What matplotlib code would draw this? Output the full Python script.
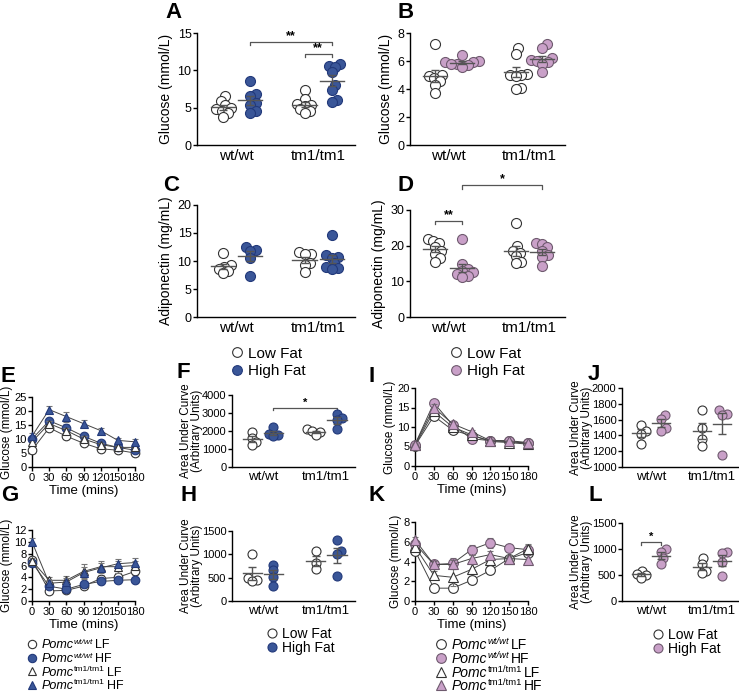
import numpy as np
import matplotlib
matplotlib.use('Agg')
import matplotlib.pyplot as plt
from matplotlib.lines import Line2D

plt.rcParams['font.family'] = ['Liberation Sans', 'DejaVu Sans']

# ---------------- data ----------------
groups = ['wt/wt', 'tm1/tm1']
times = [0, 30, 60, 90, 120, 150, 180]

# A  glucose (mmol/L), blue HF
A_wt_lf = [6.5, 5.9, 5.3, 5.0, 4.8, 4.6, 4.3, 3.8]
A_wt_hf = [8.6, 6.8, 6.6, 5.6, 5.4, 4.5, 4.3]
A_tm_lf = [7.3, 6.2, 5.5, 5.3, 5.2, 4.8, 4.5, 4.3]
A_tm_hf = [10.8, 10.6, 10.5, 9.8, 8.0, 7.3, 6.0, 5.7]
# B  glucose (mmol/L), pink HF
B_wt_lf = [7.2, 5.0, 4.9, 4.8, 4.6, 4.3, 3.7]
B_wt_hf = [6.4, 6.0, 5.9, 5.9, 5.8, 5.8, 5.7, 5.6]
B_tm_lf = [6.9, 6.5, 5.1, 5.0, 5.0, 4.9, 4.1, 4.0]
B_tm_hf = [7.2, 6.9, 6.2, 6.1, 6.0, 5.9, 5.8, 5.2]
# C  adiponectin (mg/mL), blue HF
C_wt_lf = [11.4, 9.2, 9.0, 8.6, 8.2, 7.8]
C_wt_hf = [12.5, 12.0, 11.8, 10.5, 7.4]
C_tm_lf = [11.6, 11.3, 11.2, 9.7, 9.3, 8.1]
C_tm_hf = [14.7, 11.0, 10.8, 10.6, 9.6, 9.0, 8.7, 8.6]
# D  adiponectin (mg/mL), pink HF
D_wt_lf = [22.0, 21.2, 20.8, 19.5, 18.5, 17.8, 16.5, 15.5]
D_wt_hf = [21.8, 14.8, 13.5, 13.0, 12.5, 12.0, 11.5, 11.1]
D_tm_lf = [26.3, 19.8, 18.5, 18.0, 17.0, 15.5, 15.2]
D_tm_hf = [20.8, 20.6, 19.5, 18.5, 17.5, 16.8, 14.2]

# E  GTT, blue
E_wt_lf = [6.0, 14.0, 11.0, 8.5, 6.5, 6.0, 5.0]
E_wt_lf_err = [0.6, 1.0, 1.0, 0.8, 0.6, 0.5, 0.5]
E_wt_hf = [10.0, 16.5, 14.0, 11.0, 8.5, 7.0, 6.0]
E_wt_hf_err = [0.8, 1.0, 1.2, 0.9, 0.7, 0.6, 0.5]
E_tm_lf = [9.0, 15.5, 13.0, 10.0, 8.0, 7.0, 7.0]
E_tm_lf_err = [0.8, 1.0, 1.0, 0.9, 0.7, 0.6, 0.6]
E_tm_hf = [11.0, 20.5, 18.0, 15.5, 13.0, 9.5, 9.0]
E_tm_hf_err = [1.0, 1.3, 1.8, 1.2, 0.8, 0.8, 1.0]
# F  AUC GTT, blue
F_wt_lf = [1950, 1600, 1400, 1200]
F_wt_hf = [2250, 1850, 1800, 1700]
F_tm_lf = [2100, 2000, 1950, 1800]
F_tm_hf = [2950, 2700, 2600, 2100]
# G  ITT, blue
G_wt_lf = [7.0, 1.7, 1.8, 2.5, 3.8, 4.0, 5.0]
G_wt_lf_err = [0.5, 0.3, 0.3, 0.5, 0.6, 0.7, 0.6]
G_wt_hf = [6.5, 2.5, 2.0, 2.8, 3.3, 3.5, 3.6]
G_wt_hf_err = [0.5, 0.4, 0.3, 0.5, 0.4, 0.5, 0.4]
G_tm_lf = [6.8, 3.5, 3.5, 5.0, 5.8, 5.8, 6.0]
G_tm_lf_err = [0.5, 0.6, 0.8, 1.2, 0.9, 1.0, 0.8]
G_tm_hf = [10.0, 3.0, 3.2, 4.8, 5.6, 6.3, 6.5]
G_tm_hf_err = [0.6, 0.6, 0.7, 0.9, 0.9, 0.8, 0.7]
# H  AUC ITT, blue
H_wt_lf = [1000, 500, 450, 430]
H_wt_hf = [780, 660, 510, 330]
H_tm_lf = [1070, 820, 680]
H_tm_hf = [1300, 1080, 1000, 530]
# I  GTT, pink
I_wt_lf = [5.2, 12.8, 9.2, 7.8, 6.5, 6.3, 5.8]
I_wt_lf_err = [0.3, 0.8, 0.6, 0.5, 0.3, 0.3, 0.3]
I_wt_hf = [5.5, 16.2, 10.5, 7.0, 6.5, 6.5, 6.0]
I_wt_hf_err = [0.3, 0.8, 0.6, 0.5, 0.3, 0.3, 0.3]
I_tm_lf = [5.3, 14.0, 10.0, 8.0, 6.3, 6.0, 5.6]
I_tm_lf_err = [0.3, 0.9, 0.6, 0.5, 0.3, 0.3, 0.3]
I_tm_hf = [5.5, 15.0, 10.8, 8.8, 6.5, 6.3, 5.8]
I_tm_hf_err = [0.3, 0.9, 0.6, 0.5, 0.3, 0.3, 0.3]
# J  AUC GTT, pink
J_wt_lf = [1530, 1460, 1420, 1290]
J_wt_hf = [1660, 1610, 1490, 1450]
J_tm_lf = [1720, 1500, 1360, 1260]
J_tm_hf = [1720, 1670, 1660, 1150]
# K  ITT, pink
K_wt_lf = [5.1, 1.3, 1.3, 2.1, 3.1, 4.3, 4.9]
K_wt_lf_err = [0.3, 0.2, 0.2, 0.3, 0.3, 0.4, 0.4]
K_wt_hf = [5.8, 3.7, 3.8, 5.2, 5.9, 5.4, 5.2]
K_wt_hf_err = [0.3, 0.5, 0.6, 0.5, 0.5, 0.3, 0.5]
K_tm_lf = [5.5, 2.6, 2.4, 3.2, 4.2, 4.3, 5.3]
K_tm_lf_err = [0.3, 0.4, 0.9, 0.5, 0.4, 0.4, 0.5]
K_tm_hf = [6.2, 3.7, 3.7, 4.3, 4.7, 4.3, 4.2]
K_tm_hf_err = [0.3, 0.4, 0.5, 0.4, 0.4, 0.3, 0.3]
# L  AUC ITT, pink
L_wt_lf = [580, 520, 500, 450]
L_wt_hf = [1000, 950, 820, 720]
L_tm_lf = [820, 720, 580, 530]
L_tm_hf = [950, 930, 750, 480]

# legend texts: gene name, superscript genotype, diet
geno_gene = 'Pomc'
geno_sup = ['wt/wt', 'wt/wt', 'tm1/tm1', 'tm1/tm1']
geno_diet = ['LF', 'HF', 'LF', 'HF']
diet_labels = ['Low Fat', 'High Fat']

blue, blue_edge = '#3a5698', '#22397a'
pink, pink_edge = '#c9a0c8', '#6e5a6e'
open_edge = '#333333'
gray = '#555555'

W, H = 739, 693
fig = plt.figure(figsize=(W / 100, H / 100), dpi=100)
renderer = fig.canvas.get_renderer()


def px_axes(l, t, r, b):
    return fig.add_axes([l / W, 1 - b / H, (r - l) / W, (b - t) / H])


def style(ax, tick_fs):
    for s in ['top', 'right']:
        ax.spines[s].set_visible(False)
    for s in ['left', 'bottom']:
        ax.spines[s].set_linewidth(1.0)
    ax.tick_params(labelsize=tick_fs, width=1, length=3, pad=1)


def swarm(ypx, d):
    # simple beeswarm, offsets in pixels
    placed = []
    offs = np.zeros(len(ypx))
    for i in np.argsort(ypx):
        y = ypx[i]
        cands = [0.0]
        for px_, py_ in placed:
            dy = y - py_
            if abs(dy) < d:
                dx = np.sqrt(d * d - dy * dy)
                cands += [px_ + dx, px_ - dx]
        cands.sort(key=abs)
        for c in cands:
            if all((c - px_) ** 2 + (y - py_) ** 2 >= d * d - 1e-6 for px_, py_ in placed):
                break
        placed.append((c, y))
        offs[i] = c
    return offs


def dot_panel(rect, vals4, ylim, yticks, face, edge, ylabel, ms_px,
              tick_fs, cat_fs, ylab_fs, labelpad=3):
    ax = px_axes(*rect)
    l, t, r, b = rect
    xlim = (-0.95, 4.85)
    ax.set_xlim(*xlim)
    ax.set_ylim(*ylim)
    sx = (r - l) / (xlim[1] - xlim[0])
    sy = (b - t) / (ylim[1] - ylim[0])
    xpos = [0, 1, 3, 4]
    for k, v in enumerate(vals4):
        v = np.asarray(v, float)
        offs = swarm(v * sy, ms_px * 0.6) / sx
        fc = 'white' if k % 2 == 0 else face
        ec = open_edge if k % 2 == 0 else edge
        ax.scatter(xpos[k] + offs, v, s=(ms_px * 0.72) ** 2, facecolor=fc,
                   edgecolor=ec, linewidth=0.8, zorder=3, clip_on=False)
        m = v.mean()
        se = v.std(ddof=1) / np.sqrt(len(v))
        ax.plot([xpos[k] - 0.45, xpos[k] + 0.45], [m, m], color=gray, lw=1, zorder=4)
        ax.errorbar(xpos[k], m, yerr=se, fmt='none', ecolor=gray, elinewidth=1,
                    capsize=3, capthick=1, zorder=4)
    style(ax, tick_fs)
    ax.set_yticks(yticks)
    ax.set_xticks([0.5, 3.5])
    ax.set_xticklabels(groups, fontsize=cat_fs)
    ax.tick_params(axis='x', length=0, pad=3)
    ax.set_ylabel(ylabel, fontsize=ylab_fs, labelpad=labelpad, linespacing=0.88)
    return ax


def sig(ax, x1, x2, y, text, tick, fs=9):
    ax.plot([x1, x1, x2, x2], [y - tick, y, y, y - tick], color=gray, lw=0.9,
            clip_on=False)
    ax.text((x1 + x2) / 2, y, text, ha='center', va='bottom', fontsize=fs,
            fontweight='bold')


def time_panel(rect, series, ylim, yticks, face, edge, ms=6.2):
    ax = px_axes(*rect)
    ax.set_xlim(0, 180)
    ax.set_ylim(*ylim)
    styles = [('o', 'white', open_edge), ('o', face, edge),
              ('^', 'white', open_edge), ('^', face, edge)]
    for k in [3, 2, 1, 0]:
        vals, errs = series[k]
        mk, fc, ec = styles[k]
        ax.errorbar(times, vals, yerr=errs, color='#444444', lw=0.7,
                    ecolor='#777777', elinewidth=0.8, capsize=2, capthick=0.8,
                    marker=mk, mfc=fc, mec=ec, mew=0.8, ms=ms, zorder=3 + k,
                    clip_on=False)
    style(ax, 8)
    ax.set_xticks(times)
    ax.set_yticks(yticks)
    ax.set_xlabel('Time (mins)', fontsize=9.5, labelpad=2)
    ax.set_ylabel('Glucose (mmol/L)', fontsize=8.5, labelpad=1)
    return ax


def put(xpx, ypx, txt, fs, **kw):
    t = fig.text(xpx / W, 1 - ypx / H, txt, fontsize=fs, ha='left', va='baseline', **kw)
    return xpx + t.get_window_extent(renderer).width


def marker(xpx, ypx, mk, fc, ec, ms):
    fig.add_artist(Line2D([xpx / W], [1 - ypx / H], transform=fig.transFigure,
                          ls='none', marker=mk, mfc=fc, mec=ec, mew=0.8, ms=ms))


def diet_key(x, y0, dy, face, edge, fs, ms):
    for i, (fc, ec) in enumerate([('white', open_edge), (face, edge)]):
        y = y0 + i * dy
        marker(x, y, 'o', fc, ec, ms)
        put(x + ms + 4, y + fs * 0.5, diet_labels[i], fs)


def geno_key(x, y0, dy, face, edge, fs, ms):
    looks = [('o', 'white', open_edge), ('o', face, edge),
             ('^', 'white', open_edge), ('^', face, edge)]
    for i, (mk, fc, ec) in enumerate(looks):
        y = y0 + i * dy
        marker(x, y, mk, fc, ec, ms)
        base = y + fs * 0.5
        xx = put(x + ms + 4, base, geno_gene, fs, style='italic')
        xx = put(xx, base - fs * 0.5, geno_sup[i], fs * 0.68,
                 style='italic' if i < 2 else 'normal')
        put(xx + 2, base, geno_diet[i], fs)


# ---------------- top panels ----------------
axA = dot_panel((197, 33, 355, 145), [A_wt_lf, A_wt_hf, A_tm_lf, A_tm_hf],
                (0, 15), [0, 5, 10, 15], blue, blue_edge, 'Glucose (mmol/L)',
                10, 9, 11, 10)
sig(axA, 1, 4, 13.8, '**', 0.4)
sig(axA, 3, 4, 12.2, '**', 0.4)

axB = dot_panel((410, 33, 565, 145), [B_wt_lf, B_wt_hf, B_tm_lf, B_tm_hf],
                (0, 8), [0, 2, 4, 6, 8], pink, pink_edge, 'Glucose (mmol/L)',
                10, 9, 11, 10)

axC = dot_panel((197, 205, 355, 317), [C_wt_lf, C_wt_hf, C_tm_lf, C_tm_hf],
                (0, 20), [0, 5, 10, 15, 20], blue, blue_edge, 'Adiponectin (mg/mL)',
                10, 9, 11, 10)

axD = dot_panel((410, 210, 565, 317), [D_wt_lf, D_wt_hf, D_tm_lf, D_tm_hf],
                (0, 30), [0, 10, 20, 30], pink, pink_edge, 'Adiponectin (mg/mL)',
                10, 9, 11, 10)
sig(axD, 1, 4, 37.0, '*', 1.0)
sig(axD, 0, 1, 27.0, '**', 1.0)

diet_key(237, 352, 18, blue, blue_edge, 11, 7)
diet_key(456, 352, 18, pink, pink_edge, 11, 7)

# ---------------- bottom panels ----------------
auc_lab = 'Area Under Curve\n(Arbitrary Units)'

time_panel((32, 397, 135, 467),
           [(E_wt_lf, E_wt_lf_err), (E_wt_hf, E_wt_hf_err),
            (E_tm_lf, E_tm_lf_err), (E_tm_hf, E_tm_hf_err)],
           (0, 25), [0, 5, 10, 15, 20, 25], blue, blue_edge)

axF = dot_panel((232, 395, 355, 467), [F_wt_lf, F_wt_hf, F_tm_lf, F_tm_hf],
                (0, 4000), [0, 1000, 2000, 3000, 4000], blue, blue_edge, auc_lab,
                9, 8, 9.5, 8.5, labelpad=-1)
sig(axF, 1, 4, 3300, '*', 120, fs=8)

time_panel((32, 530, 135, 601),
           [(G_wt_lf, G_wt_lf_err), (G_wt_hf, G_wt_hf_err),
            (G_tm_lf, G_tm_lf_err), (G_tm_hf, G_tm_hf_err)],
           (0, 12), [0, 2, 4, 6, 8, 10, 12], blue, blue_edge)

dot_panel((232, 531, 355, 601), [H_wt_lf, H_wt_hf, H_tm_lf, H_tm_hf],
          (0, 1500), [0, 500, 1000, 1500], blue, blue_edge, auc_lab,
          9, 8, 9.5, 8.5, labelpad=-1)

time_panel((415, 388, 528, 466),
           [(I_wt_lf, I_wt_lf_err), (I_wt_hf, I_wt_hf_err),
            (I_tm_lf, I_tm_lf_err), (I_tm_hf, I_tm_hf_err)],
           (0, 20), [0, 5, 10, 15, 20], pink, pink_edge, ms=7)

dot_panel((622, 388, 739, 467), [J_wt_lf, J_wt_hf, J_tm_lf, J_tm_hf],
          (1000, 2000), [1000, 1200, 1400, 1600, 1800, 2000], pink, pink_edge,
          auc_lab, 9, 8, 9.5, 8.5, labelpad=-1)

time_panel((415, 522, 528, 601),
           [(K_wt_lf, K_wt_lf_err), (K_wt_hf, K_wt_hf_err),
            (K_tm_lf, K_tm_lf_err), (K_tm_hf, K_tm_hf_err)],
           (0, 8), [0, 2, 4, 6, 8], pink, pink_edge, ms=7)

axL = dot_panel((622, 523, 739, 601), [L_wt_lf, L_wt_hf, L_tm_lf, L_tm_hf],
                (0, 1500), [0, 500, 1000, 1500], pink, pink_edge, auc_lab,
                9, 8, 9.5, 8.5, labelpad=-1)
sig(axL, 0, 1, 1130, '*', 50, fs=8)

geno_key(32, 644, 13.5, blue, blue_edge, 9, 6)
diet_key(272, 633, 14, blue, blue_edge, 10, 6.5)
geno_key(441, 644, 13.8, pink, pink_edge, 10, 7)
diet_key(658, 634, 14, pink, pink_edge, 10, 6.5)

# panel letters
for lab, x, y in [('A', 165, 2), ('B', 397, 2), ('C', 163, 175), ('D', 397, 175),
                  ('E', 1, 366), ('F', 177, 362), ('G', 1, 485), ('H', 180, 485),
                  ('I', 369, 366), ('J', 588, 364), ('K', 369, 485), ('L', 588, 485)]:
    fig.text(x / W, 1 - y / H, lab, fontsize=16, fontweight='bold', ha='left', va='top')

fig.savefig('out.png', dpi=100)
